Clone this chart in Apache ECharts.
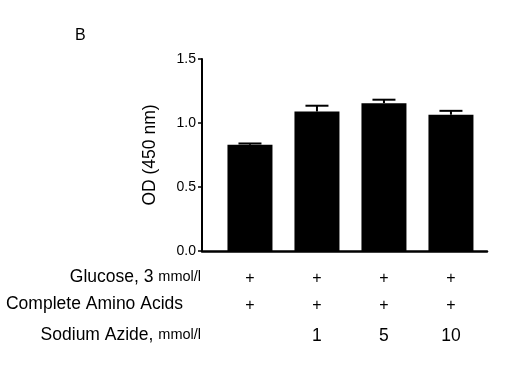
<!DOCTYPE html>
<html>
	<head>
		<meta charset="utf-8">
		<title>ECharts</title>
		<script src="https://cdn.jsdelivr.net/npm/echarts@6/dist/echarts.min.js"></script>
		<style>
			html, body { margin: 0; padding: 0; background: #fff; }
		</style>
	</head>
	<body>
		<div id="main" style="width: 520px;height: 388px;"></div>
		<script type="text/javascript">
			// data
			var positions = [1, 2, 3, 4];
			var values = [0.83, 1.09, 1.155, 1.065];
			var errors = [0.01, 0.045, 0.027, 0.03];
			var glucose = ['+', '+', '+', '+'];
			var aminoAcids = ['+', '+', '+', '+'];
			var azide = ['', '1', '5', '10'];

			var font = '"Liberation Sans", Arial, Helvetica, sans-serif';

			var barData = positions.map(function (p, i) { return [p, values[i]]; });
			var errData = positions.map(function (p, i) { return [p, values[i], errors[i]]; });

			// vertical stem + cap on top of each bar
			function renderError(params, api) {
				var x = api.value(0), y = api.value(1), e = api.value(2);
				var top = api.coord([x, y + e]);
				var base = api.coord([x, y]);
				var half = 11.5;
				return {
					type: 'group',
					children: [
						{ type: 'line', shape: { x1: top[0], y1: top[1], x2: base[0], y2: base[1] }, style: { stroke: '#000', lineWidth: 2 } },
						{ type: 'line', shape: { x1: top[0] - half, y1: top[1], x2: top[0] + half, y2: top[1] }, style: { stroke: '#000', lineWidth: 2 } }
					]
				};
			}

			var myChart = echarts.init(document.getElementById('main'));
			var option = {
				animation: false,
				backgroundColor: '#fff',
				textStyle: { fontFamily: font, color: '#000' },
				grid: { left: 202, right: 33, top: 59, bottom: 137 },
				xAxis: {
					type: 'value',
					min: 0.284,
					max: 4.538,
					splitLine: { show: false },
					axisTick: { show: false },
					axisLine: { lineStyle: { color: '#000', width: 2.5 } },
					axisLabel: {
						customValues: positions,
						margin: 14,
						formatter: function (v) {
							var i = Math.round(v) - 1;
							return '{g|' + glucose[i] + '}\n{a|' + aminoAcids[i] + '}\n{s|' + (azide[i] || ' ') + '}';
						},
						rich: {
							g: { fontSize: 16, lineHeight: 27, color: '#000', fontFamily: font },
							a: { fontSize: 16, lineHeight: 27, color: '#000', fontFamily: font },
							s: { fontSize: 17.5, lineHeight: 35, color: '#000', fontFamily: font }
						}
					}
				},
				yAxis: {
					type: 'value',
					min: 0,
					max: 1.5,
					interval: 0.5,
					name: 'OD (450 nm)',
					nameLocation: 'middle',
					nameGap: 43,
					nameTextStyle: { fontSize: 17.5, color: '#000', fontFamily: font },
					splitLine: { show: false },
					axisLine: { show: true, lineStyle: { color: '#000', width: 2 } },
					axisTick: { show: true, length: 4, lineStyle: { color: '#000', width: 1.5 } },
					axisLabel: {
						fontSize: 14,
						color: '#000',
						margin: 6,
						formatter: function (v) { return v.toFixed(1); }
					}
				},
				graphic: [
					{ type: 'text', left: 75, top: 28, style: { text: 'B', font: '16px ' + font, fill: '#000' } },
					{ type: 'text', x: 201, y: 277, style: { text: '{b|Glucose, 3 }{s|mmol/l}', align: 'right', verticalAlign: 'middle', rich: { b: { font: '17.5px ' + font, fill: '#000' }, s: { font: '14.5px ' + font, fill: '#000' } } } },
					{ type: 'text', x: 183, y: 304, style: { text: 'Complete Amino Acids', align: 'right', verticalAlign: 'middle', font: '17.5px ' + font, fill: '#000' } },
					{ type: 'text', x: 201, y: 335, style: { text: '{b|Sodium Azide, }{s|mmol/l}', align: 'right', verticalAlign: 'middle', rich: { b: { font: '17.5px ' + font, fill: '#000' }, s: { font: '14.5px ' + font, fill: '#000' } } } }
				],
				series: [
					{
						type: 'bar',
						data: barData,
						barWidth: 45,
						itemStyle: { color: '#000' }
					},
					{
						type: 'custom',
						data: errData,
						renderItem: renderError,
						z: 3
					}
				]
			};
			myChart.setOption(option);
		</script>
	</body>
</html>
